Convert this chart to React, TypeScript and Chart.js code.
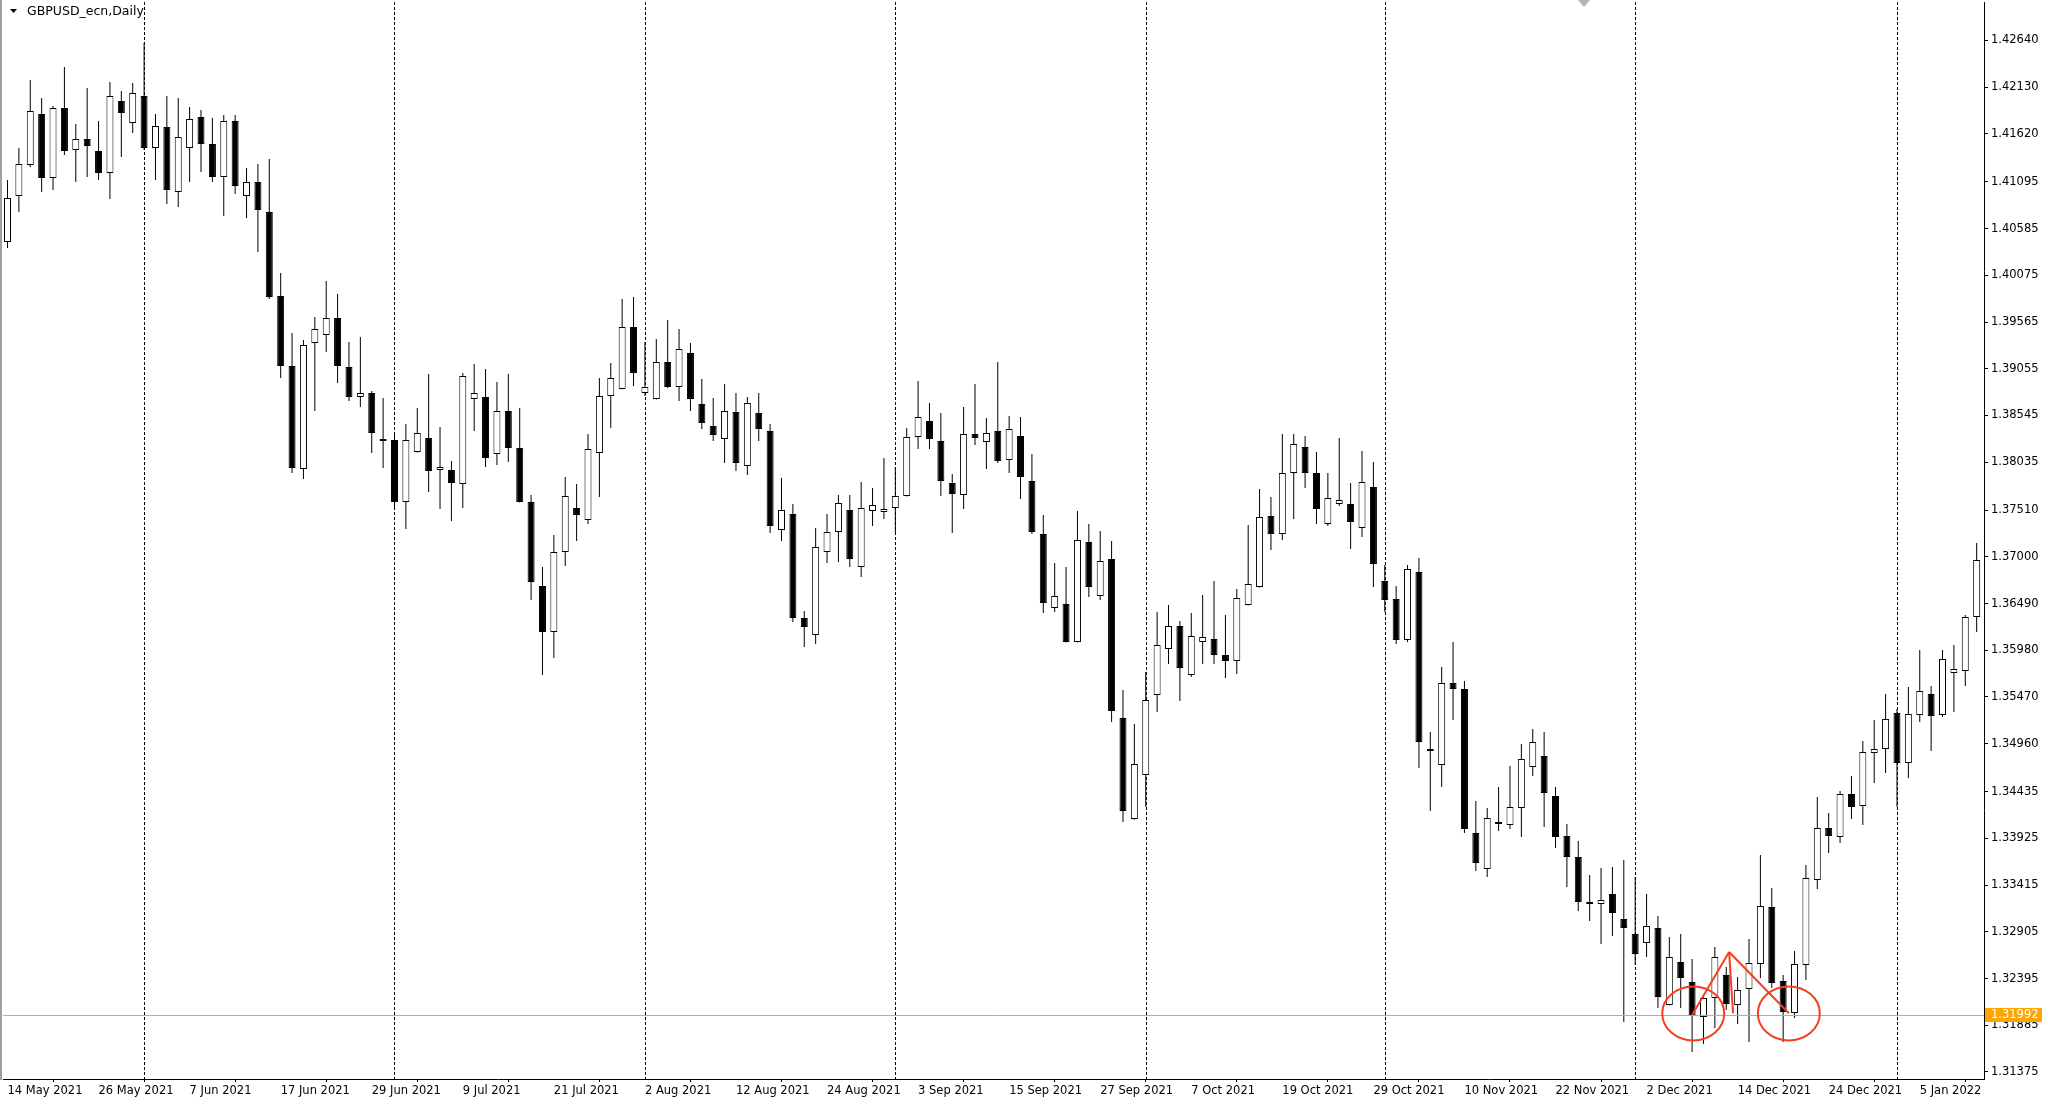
import React, { useEffect, useRef } from 'react';
import { Chart, registerables } from 'chart.js';

Chart.register(...registerables);

// ---------- data ----------
const CHART_TITLE = 'GBPUSD_ecn,Daily';
const FIRST_SESSION = '2021-05-14';

const OPEN = [
  1.40439, 1.40942, 1.41280, 1.41837, 1.41138, 1.41903, 1.41444, 1.41564, 1.41433, 1.41193,
  1.41979, 1.41739, 1.42034, 1.41466, 1.41695, 1.40985, 1.41466, 1.41804, 1.41509, 1.41149,
  1.41761, 1.40942, 1.41094, 1.40767, 1.39849, 1.39085, 1.37960, 1.39336, 1.39424, 1.39609,
  1.39074, 1.38746, 1.38790, 1.38288, 1.38277, 1.37600, 1.38146, 1.38299, 1.37949, 1.37949,
  1.37796, 1.38725, 1.38746, 1.38124, 1.38594, 1.38189, 1.37600, 1.36682, 1.36180, 1.37054,
  1.37534, 1.37403, 1.38135, 1.38757, 1.38834, 1.39511, 1.38790, 1.38725, 1.39129, 1.38856,
  1.39227, 1.38670, 1.38430, 1.38288, 1.38583, 1.37993, 1.38572, 1.38375, 1.37294, 1.37469,
  1.36333, 1.36147, 1.37054, 1.37272, 1.37512, 1.36890, 1.37501, 1.37490, 1.37534, 1.37665,
  1.38310, 1.38484, 1.38266, 1.37807, 1.37676, 1.38342, 1.38255, 1.38375, 1.38058, 1.38320,
  1.37829, 1.37250, 1.36442, 1.36486, 1.36071, 1.37163, 1.36573, 1.36977, 1.35241, 1.34138,
  1.34618, 1.35492, 1.35994, 1.36245, 1.35710, 1.36071, 1.36104, 1.35929, 1.35863, 1.36475,
  1.36671, 1.37447, 1.37250, 1.37916, 1.38200, 1.37916, 1.37359, 1.37578, 1.37578, 1.37316,
  1.37764, 1.36737, 1.36540, 1.36093, 1.36835, 1.34902, 1.34727, 1.35623, 1.35557, 1.33985,
  1.33592, 1.34105, 1.34072, 1.34258, 1.34706, 1.34826, 1.34389, 1.33952, 1.33723, 1.33231,
  1.33209, 1.33319, 1.33046, 1.32882, 1.32784, 1.32947, 1.32106, 1.32576, 1.32358, 1.31975,
  1.32183, 1.32434, 1.32106, 1.32281, 1.32554, 1.33177, 1.32369, 1.32019, 1.32543, 1.33471,
  1.34039, 1.33941, 1.34411, 1.34280, 1.34859, 1.34902, 1.35295, 1.34749, 1.35274, 1.35503,
  1.35274, 1.35732, 1.35754, 1.36344,
];

const HIGH = [
  1.41116, 1.41466, 1.42208, 1.42012, 1.41924, 1.42350, 1.41728, 1.42121, 1.41761, 1.42187,
  1.42088, 1.42176, 1.42612, 1.41837, 1.42034, 1.42012, 1.41914, 1.41881, 1.41793, 1.41826,
  1.41826, 1.41247, 1.41291, 1.41346, 1.40101, 1.39445, 1.39369, 1.39620, 1.40013, 1.39871,
  1.39347, 1.39402, 1.38812, 1.38735, 1.38353, 1.38452, 1.38626, 1.38998, 1.38419, 1.38047,
  1.39009, 1.39107, 1.39052, 1.38910, 1.38998, 1.38626, 1.37676, 1.36890, 1.37239, 1.37873,
  1.37796, 1.38342, 1.38954, 1.39118, 1.39817, 1.39839, 1.39347, 1.39380, 1.39587, 1.39489,
  1.39336, 1.38943, 1.38735, 1.38888, 1.38790, 1.38746, 1.38790, 1.38452, 1.37862, 1.37578,
  1.36409, 1.37316, 1.37469, 1.37676, 1.37676, 1.37818, 1.37753, 1.38080, 1.37982, 1.38408,
  1.38921, 1.38681, 1.38572, 1.37905, 1.38637, 1.38888, 1.38517, 1.39129, 1.38539, 1.38528,
  1.38124, 1.37458, 1.36934, 1.36890, 1.37501, 1.37359, 1.37283, 1.37174, 1.35547, 1.35175,
  1.35743, 1.36398, 1.36475, 1.36300, 1.36387, 1.36584, 1.36737, 1.36366, 1.36650, 1.37349,
  1.37742, 1.37654, 1.38342, 1.38342, 1.38320, 1.38146, 1.37916, 1.38299, 1.37807, 1.38157,
  1.38037, 1.36912, 1.36682, 1.36912, 1.36988, 1.35088, 1.35798, 1.36071, 1.35645, 1.34334,
  1.34258, 1.34487, 1.34717, 1.34957, 1.35121, 1.35088, 1.34487, 1.34083, 1.33897, 1.33526,
  1.33603, 1.33614, 1.33690, 1.33504, 1.33319, 1.33078, 1.32849, 1.32882, 1.32609, 1.32190,
  1.32740, 1.32521, 1.32412, 1.32827, 1.33744, 1.33384, 1.32434, 1.32696, 1.33635, 1.34378,
  1.34203, 1.34443, 1.34607, 1.34990, 1.35219, 1.35503, 1.35339, 1.35579, 1.35983, 1.35590,
  1.35983, 1.36038, 1.36366, 1.37152,
];

const LOW = [
  1.40374, 1.40767, 1.41258, 1.40985, 1.41007, 1.41389, 1.41094, 1.41149, 1.41116, 1.40909,
  1.41367, 1.41629, 1.41444, 1.41116, 1.40854, 1.40821, 1.41094, 1.41204, 1.41094, 1.40723,
  1.40963, 1.40701, 1.40330, 1.39817, 1.38954, 1.37916, 1.37851, 1.38594, 1.39238, 1.38899,
  1.38703, 1.38637, 1.38135, 1.37971, 1.37534, 1.37305, 1.38140, 1.37709, 1.37523, 1.37392,
  1.37534, 1.38375, 1.37982, 1.38004, 1.38037, 1.37595, 1.36529, 1.35710, 1.35896, 1.36901,
  1.37174, 1.37359, 1.37654, 1.38408, 1.38830, 1.38867, 1.38757, 1.38720, 1.38845, 1.38703,
  1.38594, 1.38397, 1.38266, 1.38026, 1.37938, 1.37895, 1.38266, 1.37261, 1.37174, 1.36289,
  1.36016, 1.36049, 1.36934, 1.36944, 1.36890, 1.36781, 1.37338, 1.37414, 1.37261, 1.37660,
  1.38179, 1.38179, 1.37665, 1.37261, 1.37523, 1.38222, 1.37960, 1.38026, 1.37916, 1.37632,
  1.37250, 1.36387, 1.36398, 1.36065, 1.36065, 1.36562, 1.36529, 1.35197, 1.34105, 1.34130,
  1.34269, 1.35306, 1.35830, 1.35426, 1.35689, 1.35830, 1.35830, 1.35678, 1.35721, 1.36470,
  1.36665, 1.37075, 1.37185, 1.37414, 1.37753, 1.37359, 1.37338, 1.37556, 1.37086, 1.37217,
  1.36671, 1.36398, 1.36049, 1.36071, 1.34695, 1.34225, 1.34487, 1.35219, 1.33985, 1.33570,
  1.33504, 1.34007, 1.34029, 1.33941, 1.34607, 1.34050, 1.33821, 1.33395, 1.33133, 1.33024,
  1.32773, 1.32860, 1.31921, 1.32543, 1.32631, 1.32074, 1.32100, 1.32074, 1.31593, 1.31681,
  1.31855, 1.32052, 1.31899, 1.31702, 1.32401, 1.32292, 1.31702, 1.31964, 1.32379, 1.33373,
  1.33766, 1.33876, 1.34138, 1.34072, 1.34531, 1.34640, 1.34269, 1.34586, 1.35197, 1.34880,
  1.35252, 1.35306, 1.35590, 1.36180,
];

const CLOSE = [
  1.40920, 1.41291, 1.41870, 1.41138, 1.41903, 1.41433, 1.41564, 1.41488, 1.41193, 1.42034,
  1.41848, 1.42066, 1.41466, 1.41706, 1.41007, 1.41586, 1.41782, 1.41509, 1.41149, 1.41761,
  1.41051, 1.41094, 1.40789, 1.39839, 1.39085, 1.37971, 1.39314, 1.39489, 1.39609, 1.39085,
  1.38746, 1.38790, 1.38353, 1.38266, 1.37600, 1.38277, 1.38353, 1.37938, 1.37982, 1.37807,
  1.38976, 1.38790, 1.38080, 1.38594, 1.38189, 1.37600, 1.36726, 1.36180, 1.37054, 1.37665,
  1.37458, 1.38179, 1.38757, 1.38954, 1.39511, 1.39009, 1.38856, 1.39129, 1.38856, 1.39271,
  1.38725, 1.38462, 1.38331, 1.38594, 1.38026, 1.38681, 1.38397, 1.37338, 1.37512, 1.36333,
  1.36235, 1.37108, 1.37272, 1.37589, 1.36977, 1.37534, 1.37567, 1.37523, 1.37665, 1.38310,
  1.38528, 1.38288, 1.37829, 1.37687, 1.38342, 1.38299, 1.38353, 1.38047, 1.38397, 1.37873,
  1.37272, 1.36497, 1.36573, 1.36071, 1.37185, 1.36671, 1.36955, 1.35317, 1.34225, 1.34738,
  1.35437, 1.36038, 1.36245, 1.35787, 1.36136, 1.36125, 1.35929, 1.35863, 1.36551, 1.36704,
  1.37436, 1.37250, 1.37916, 1.38233, 1.37916, 1.37523, 1.37643, 1.37622, 1.37381, 1.37818,
  1.36923, 1.36529, 1.36093, 1.36868, 1.34979, 1.34880, 1.35623, 1.35557, 1.34029, 1.33657,
  1.34149, 1.34083, 1.34269, 1.34793, 1.34979, 1.34422, 1.33941, 1.33723, 1.33231, 1.33209,
  1.33253, 1.33111, 1.32947, 1.32663, 1.32969, 1.32194, 1.32631, 1.32401, 1.31986, 1.32183,
  1.32631, 1.32117, 1.32270, 1.32565, 1.33188, 1.32347, 1.32030, 1.32554, 1.33493, 1.34039,
  1.33952, 1.34411, 1.34269, 1.34869, 1.34902, 1.35230, 1.34749, 1.35284, 1.35536, 1.35263,
  1.35885, 1.35776, 1.36344, 1.36966,
];

const X_TICK_LABELS = [
  '14 May 2021', '26 May 2021', '7 Jun 2021', '17 Jun 2021', '29 Jun 2021', '9 Jul 2021',
  '21 Jul 2021', '2 Aug 2021', '12 Aug 2021', '24 Aug 2021', '3 Sep 2021', '15 Sep 2021',
  '27 Sep 2021', '7 Oct 2021', '19 Oct 2021', '29 Oct 2021', '10 Nov 2021', '22 Nov 2021',
  '2 Dec 2021', '14 Dec 2021', '24 Dec 2021', '5 Jan 2022',
];
const X_TICK_STEP = 8;

const PRICE_TICKS = [
  1.42640, 1.42130, 1.41620, 1.41095, 1.40585, 1.40075, 1.39565, 1.39055, 1.38545, 1.38035,
  1.37510, 1.37000, 1.36490, 1.35980, 1.35470, 1.34960, 1.34435, 1.33925, 1.33415, 1.32905,
  1.32395, 1.31885, 1.31375,
];
const PRICE_MIN = 1.31298;
const PRICE_MAX = 1.43060;
const BAR_MIN = -0.395;
const BAR_MAX = 173.645;

const BID_PRICE = 1.31992;

// hand-drawn pattern marks (bar index, price)
const CIRCLE_MARKS = [
  { bar: 148.1, price: 1.32014, halfBars: 2.72, halfPrice: 0.00295 },
  { bar: 156.5, price: 1.32014, halfBars: 2.72, halfPrice: 0.00295 },
];
const PATTERN_SEGMENTS = [
  [148.0, 1.31997, 151.25, 1.32685],
  [151.25, 1.32685, 151.6, 1.32016],
  [151.25, 1.32685, 156.5, 1.32016],
];

// ---------- helpers ----------
const FONT = '"DejaVu Sans", Verdana, sans-serif';

function sessionDates(start: string, count: number): Date[] {
  const out: Date[] = [];
  const d = new Date(start + 'T00:00:00Z');
  while (out.length < count) {
    const wd = d.getUTCDay();
    if (wd !== 0 && wd !== 6) out.push(new Date(d.getTime()));
    d.setUTCDate(d.getUTCDate() + 1);
  }
  return out;
}

const DATES = sessionDates(FIRST_SESSION, OPEN.length);
const MONTH_STARTS = DATES.map((d, i) => (i > 0 && d.getUTCMonth() !== DATES[i - 1].getUTCMonth() ? i : -1)).filter(
  (i) => i >= 0,
);

const decorPlugin = {
  id: 'mt4Decor',
  beforeDatasetsDraw(chart: any) {
    const { ctx, chartArea: a, scales } = chart;
    const x = scales.x;
    ctx.save();
    ctx.strokeStyle = '#000';
    ctx.lineWidth = 1;
    ctx.setLineDash([3, 2]);
    MONTH_STARTS.forEach((i) => {
      const px = Math.round(x.getPixelForValue(i)) + 0.5;
      ctx.beginPath();
      ctx.moveTo(px, a.top);
      ctx.lineTo(px, a.bottom);
      ctx.stroke();
    });
    ctx.restore();
  },
  afterDatasetsDraw(chart: any) {
    const { ctx, chartArea: a, scales } = chart;
    const x = scales.x;
    const y = scales.y;
    ctx.save();
    const by = Math.round(y.getPixelForValue(BID_PRICE)) + 0.5;
    ctx.strokeStyle = '#FFA500';
    ctx.lineWidth = 1;
    ctx.beginPath();
    ctx.moveTo(a.left, by);
    ctx.lineTo(a.right, by);
    ctx.stroke();

    ctx.strokeStyle = '#F2401E';
    ctx.lineWidth = 2;
    CIRCLE_MARKS.forEach((c) => {
      const cx = x.getPixelForValue(c.bar);
      const cy = y.getPixelForValue(c.price);
      const rx = Math.abs(x.getPixelForValue(c.bar + c.halfBars) - cx);
      const ry = Math.abs(y.getPixelForValue(c.price + c.halfPrice) - cy);
      ctx.beginPath();
      ctx.ellipse(cx, cy, rx, ry, 0, 0, Math.PI * 2);
      ctx.stroke();
    });
    PATTERN_SEGMENTS.forEach(([b1, p1, b2, p2]) => {
      ctx.beginPath();
      ctx.moveTo(x.getPixelForValue(b1), y.getPixelForValue(p1));
      ctx.lineTo(x.getPixelForValue(b2), y.getPixelForValue(p2));
      ctx.stroke();
    });
    ctx.restore();
  },
  afterDraw(chart: any) {
    const { ctx, chartArea: a, scales } = chart;
    const y = scales.y;
    ctx.save();
    // bid price tag on the axis
    const by = Math.round(y.getPixelForValue(BID_PRICE));
    ctx.fillStyle = '#FFA500';
    ctx.fillRect(a.right + 1, by - 7, 57, 14);
    ctx.fillStyle = '#fff';
    ctx.font = '11.5px ' + FONT;
    ctx.textBaseline = 'middle';
    ctx.textAlign = 'left';
    ctx.fillText(BID_PRICE.toFixed(5), a.right + 7, by + 0.5);

    // window frame on the left
    ctx.fillStyle = '#a0a0a0';
    ctx.fillRect(0, 0, 2, a.bottom + 1);

    // title
    ctx.fillStyle = '#000';
    ctx.beginPath();
    ctx.moveTo(10, 9);
    ctx.lineTo(17, 9);
    ctx.lineTo(13.5, 13);
    ctx.closePath();
    ctx.fill();
    ctx.font = '12.5px ' + FONT;
    ctx.fillText(CHART_TITLE, 27, 12);

    // chart-shift marker
    ctx.fillStyle = '#b4b4b4';
    const sx = a.right - 400;
    ctx.beginPath();
    ctx.moveTo(sx - 6, 0);
    ctx.lineTo(sx + 6, 0);
    ctx.lineTo(sx, 7);
    ctx.closePath();
    ctx.fill();
    ctx.restore();
  },
};

export default function App() {
  const ref = useRef<HTMLCanvasElement>(null);

  useEffect(() => {
    const canvas = ref.current;
    if (!canvas) return;
    const idx = OPEN.map((_, i) => i);
    const chart = new Chart(canvas, {
      type: 'bar',
      data: {
        datasets: [
          {
            label: 'range',
            data: idx.map((i) => ({ x: i, y: [LOW[i], HIGH[i]] })) as any,
            backgroundColor: '#000',
            borderWidth: 0,
            grouped: false,
            barThickness: 1,
            maxBarThickness: 1,
            inflateAmount: 0,
            order: 2,
          } as any,
          {
            label: 'body',
            data: idx.map((i) => ({ x: i, y: [OPEN[i], CLOSE[i]] })) as any,
            backgroundColor: idx.map((i) => (CLOSE[i] >= OPEN[i] ? '#ffffff' : '#000000')),
            borderColor: '#000',
            borderWidth: 1,
            borderSkipped: false,
            grouped: false,
            barThickness: 7,
            maxBarThickness: 7,
            minBarLength: 2,
            inflateAmount: 0,
            order: 1,
          } as any,
        ],
      },
      options: {
        animation: false,
        responsive: true,
        maintainAspectRatio: false,
        devicePixelRatio: 1,
        events: [],
        layout: { padding: { left: 3, top: 2, right: 0, bottom: 0 } },
        plugins: { legend: { display: false }, tooltip: { enabled: false }, title: { display: false } },
        scales: {
          x: {
            type: 'linear',
            min: BAR_MIN,
            max: BAR_MAX,
            offset: false,
            afterBuildTicks: (scale: any) => {
              scale.ticks = X_TICK_LABELS.map((_, k) => ({ value: k * X_TICK_STEP }));
            },
            afterFit: (scale: any) => {
              scale.height = 28;
              scale.paddingLeft = 0;
              scale.paddingRight = 0;
            },
            ticks: {
              autoSkip: false,
              maxRotation: 0,
              minRotation: 0,
              align: 'start',
              padding: 2,
              color: '#000',
              font: { family: FONT, size: 11.5 },
              callback: (v: any) => X_TICK_LABELS[Math.round(Number(v) / X_TICK_STEP)] ?? '',
            },
            grid: { display: true, drawOnChartArea: false, drawTicks: true, tickLength: 3, color: '#000' },
            border: { display: true, color: '#000', width: 1 },
          },
          y: {
            type: 'linear',
            position: 'right',
            min: PRICE_MIN,
            max: PRICE_MAX,
            afterBuildTicks: (scale: any) => {
              scale.ticks = PRICE_TICKS.map((v) => ({ value: v }));
            },
            afterFit: (scale: any) => {
              scale.width = 64;
              scale.paddingTop = 0;
              scale.paddingBottom = 0;
            },
            ticks: {
              padding: 3,
              color: '#000',
              font: { family: FONT, size: 11.5 },
              callback: (v: any) => Number(v).toFixed(5),
            },
            grid: { display: true, drawOnChartArea: false, drawTicks: true, tickLength: 4, color: '#000' },
            border: { display: true, color: '#000', width: 1 },
          },
        },
      } as any,
      plugins: [decorPlugin],
    });
    return () => chart.destroy();
  }, []);

  return (
    <div style={{ position: 'fixed', left: 0, top: 0, width: 2048, height: 1107, background: '#fff' }}>
      <canvas ref={ref} />
    </div>
  );
}
